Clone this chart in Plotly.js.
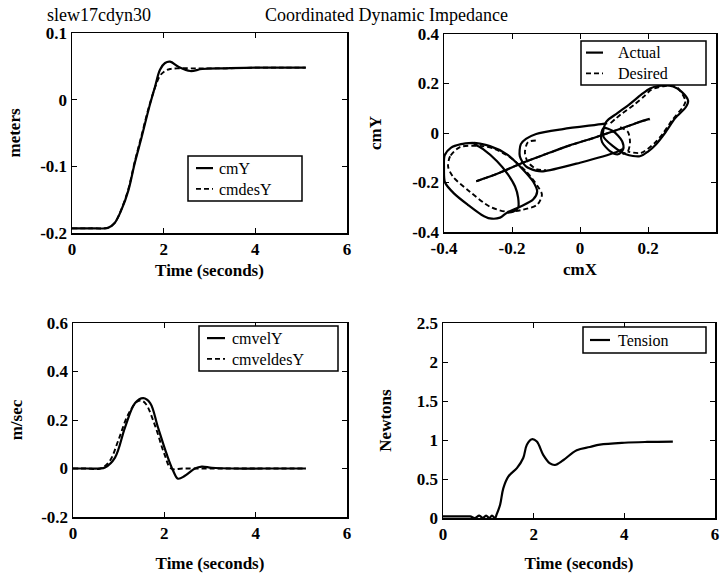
<!DOCTYPE html>
<html>
<head>
<meta charset="utf-8">
<script src="https://cdn.plot.ly/plotly-3.0.1.min.js"></script>
<style>html,body{margin:0;padding:0;background:#fff;}#plot{width:726px;height:573px;}</style>
</head>
<body>
<div id="plot"></div>
<script>
// ---- Top-left: cm Y position ----
const tPos = [0, 0.4, 0.79, 0.93, 1.08, 1.23, 1.37, 1.52, 1.67, 1.81, 1.92, 2.03, 2.14, 2.33, 2.58, 2.84, 3.35, 4.0, 4.6, 5.1];
const cmY = [-0.193, -0.193, -0.192, -0.185, -0.165, -0.136, -0.095, -0.056, -0.015, 0.019, 0.045, 0.055, 0.057, 0.049, 0.043, 0.046, 0.047, 0.048, 0.048, 0.048];
const cmdesY = [-0.193, -0.193, -0.192, -0.185, -0.164, -0.134, -0.093, -0.053, -0.013, 0.018, 0.036, 0.043, 0.046, 0.047, 0.047, 0.047, 0.047, 0.048, 0.048, 0.048];

// ---- Top-right: phase plot cmX vs cmY (segments separated by null) ----
const actualX = [
  -0.305, -0.24, -0.168, -0.10, -0.03, 0.04, 0.10, 0.15, 0.18, 0.205, null,
  -0.315, -0.35, -0.38, -0.398, -0.40, -0.397, -0.37, -0.33, -0.29, -0.265, -0.235, -0.215, -0.176, -0.138, -0.126, -0.138, -0.168, -0.215, -0.265, -0.315,
  -0.285, -0.244, -0.212, -0.191, -0.182, -0.182, -0.197, -0.215, null,
  0.08, 0.068, -0.05, -0.129, -0.159, -0.174, -0.177, -0.159, -0.13, -0.109, 0.0, 0.106, 0.126, null,
  0.068, 0.077, 0.11, 0.147, 0.18, 0.206, 0.23, 0.274, 0.30, 0.318, 0.312, 0.28, 0.25, 0.224, 0.20, 0.176, 0.135, 0.097, 0.068, null,
  0.07, 0.062, 0.065, 0.088, 0.112, 0.127, 0.124, 0.097, 0.07
];
const actualY = [
  -0.195, -0.163, -0.12, -0.085, -0.05, -0.02, 0.008, 0.032, 0.047, 0.057, null,
  -0.04, -0.045, -0.06, -0.09, -0.14, -0.20, -0.245, -0.29, -0.33, -0.345, -0.342, -0.322, -0.298, -0.269, -0.237, -0.196, -0.147, -0.086, -0.053, -0.04,
  -0.065, -0.114, -0.167, -0.216, -0.261, -0.302, -0.318, -0.322, null,
  0.04, 0.037, 0.016, -0.004, -0.024, -0.045, -0.094, -0.135, -0.152, -0.155, -0.12, -0.078, -0.065, null,
  -0.012, 0.045, 0.08, 0.118, 0.155, 0.18, 0.19, 0.188, 0.165, 0.131, 0.106, 0.06, 0.0, -0.045, -0.075, -0.094, -0.086, -0.053, -0.012, null,
  0.02, -0.01, -0.037, -0.073, -0.086, -0.065, -0.033, 0.008, 0.02
];
const desiredX = [
  -0.305, -0.24, -0.168, -0.10, -0.03, 0.04, 0.10, 0.15, 0.18, 0.206, null,
  -0.353, -0.382, -0.388, -0.374, -0.324, -0.265, -0.215, -0.168, -0.126, -0.112, -0.124, -0.156, -0.206, -0.25, -0.285, -0.353, null,
  -0.13, -0.153, -0.162, -0.153, -0.126, -0.10, null,
  0.09, 0.12, 0.16, 0.19, 0.21, 0.25, 0.285, 0.31, 0.305, 0.27, 0.245, 0.22, 0.18, 0.14, null,
  0.118, 0.141, 0.147, 0.141, 0.125
];
const desiredY = [
  -0.195, -0.163, -0.12, -0.085, -0.05, -0.02, 0.008, 0.032, 0.047, 0.055, null,
  -0.057, -0.094, -0.135, -0.176, -0.237, -0.298, -0.318, -0.31, -0.29, -0.249, -0.216, -0.159, -0.098, -0.065, -0.053, -0.057, null,
  -0.03, -0.037, -0.078, -0.118, -0.147, -0.15, null,
  0.04, 0.075, 0.115, 0.15, 0.175, 0.19, 0.185, 0.13, 0.11, 0.05, 0.0, -0.04, -0.08, -0.075, null,
  0.024, 0.004, -0.037, -0.073, -0.085
];

// ---- Bottom-left: cm Y velocity ----
const tVel = [0, 0.3, 0.59, 0.70, 0.92, 1.14, 1.36, 1.54, 1.69, 1.86, 2.05, 2.19, 2.30, 2.45, 2.67, 2.82, 3.04, 3.5, 4.2, 5.1];
const cmvelY = [0, 0, 0, 0.004, 0.045, 0.17, 0.27, 0.29, 0.27, 0.17, 0.06, -0.008, -0.042, -0.03, 0.0, 0.008, 0.003, 0.0, 0.0, 0.0];
const tVelDes = [0, 0.3, 0.6, 0.8, 1.0, 1.2, 1.4, 1.5, 1.6, 1.8, 2.0, 2.15, 2.4, 3.0, 4.0, 5.1];
const cmveldesY = [0, 0, 0, 0.03, 0.12, 0.22, 0.275, 0.28, 0.265, 0.175, 0.06, 0.0, 0.0, 0.0, 0.0, 0.0];

// ---- Bottom-right: tension ----
const tTen = [0, 0.2, 0.4, 0.6, 0.7, 0.8, 0.88, 0.95, 1.02, 1.08, 1.15, 1.18, 1.26, 1.33, 1.44, 1.63, 1.77, 1.85, 1.96, 2.07, 2.21, 2.36, 2.47, 2.65, 2.95, 3.24, 3.46, 4.0, 4.5, 5.07];
const tension = [0.02, 0.02, 0.02, 0.02, 0.0, 0.03, 0.0, 0.03, 0.0, 0.03, 0.0, 0.04, 0.17, 0.38, 0.53, 0.64, 0.77, 0.94, 1.01, 0.98, 0.81, 0.70, 0.68, 0.74, 0.87, 0.91, 0.94, 0.965, 0.975, 0.98];

const SERIF = 'Liberation Serif, Times New Roman, serif';
const tickFont = {family: SERIF, size: 17, color: '#000', weight: 700};
const titleFont = {family: SERIF, size: 17, color: '#000', weight: 700};
const legFontSize = 16;
const legLineH = legFontSize * 1.3;

function ax(anchor, dom, range, vals, texts, title, standoff) {
  return {
    anchor: anchor, domain: dom, range: range, tickvals: vals, ticktext: texts,
    showline: true, linecolor: '#000', linewidth: 1.5, mirror: 'ticks',
    ticks: 'inside', ticklen: 5, tickwidth: 1, tickcolor: '#000',
    showgrid: false, zeroline: false, tickfont: tickFont,
    title: {text: title, font: titleFont, standoff: standoff},
    fixedrange: true
  };
}

const solid = {color: '#000', width: 2.2};
const dashed = {color: '#000', width: 1.9, dash: '5px,3px'};

const traces = [
  {x: tPos, y: cmY, name: 'cmY', mode: 'lines', line: Object.assign({shape: 'spline'}, solid), xaxis: 'x', yaxis: 'y'},
  {x: tPos, y: cmdesY, name: 'cmdesY', mode: 'lines', line: Object.assign({shape: 'spline'}, dashed), xaxis: 'x', yaxis: 'y'},
  {x: actualX, y: actualY, name: 'Actual', mode: 'lines', line: Object.assign({shape: 'spline', smoothing: 0.8}, solid), connectgaps: false, xaxis: 'x2', yaxis: 'y2'},
  {x: desiredX, y: desiredY, name: 'Desired', mode: 'lines', line: Object.assign({shape: 'spline', smoothing: 0.8}, dashed), connectgaps: false, xaxis: 'x2', yaxis: 'y2'},
  {x: tVel, y: cmvelY, name: 'cmvelY', mode: 'lines', line: Object.assign({shape: 'spline'}, solid), xaxis: 'x3', yaxis: 'y3'},
  {x: tVelDes, y: cmveldesY, name: 'cmveldesY', mode: 'lines', line: Object.assign({shape: 'spline'}, dashed), xaxis: 'x3', yaxis: 'y3'},
  {x: tTen, y: tension, name: 'Tension', mode: 'lines', line: Object.assign({shape: 'spline'}, solid), xaxis: 'x4', yaxis: 'y4'}
];
traces.forEach(t => { t.showlegend = false; });

const W = 726, H = 573;
const px = v => v / W, py = v => 1 - v / H;

// Compact boxed legends (one per panel), built from the traces' names and line styles.
// box: [left, top, right, bottom] in page pixels; mid = vertical centre of the entries.
const legendBoxes = [
  {axis: 'x',  box: [188, 156, 302, 201], sample: [196, 213], textX: 218, mid: 178.5},
  {axis: 'x2', box: [581, 41, 706, 85],   sample: [586, 603], textX: 617, mid: 63},
  {axis: 'x3', box: [199, 326, 338, 371], sample: [207, 225], textX: 231, mid: 348.5},
  {axis: 'x4', box: [583, 327, 706, 353], sample: [590, 610], textX: 617, mid: 340}
];
const shapes = [];
const annotations = [
  {text: 'slew17cdyn30', x: px(45), y: py(15), xref: 'paper', yref: 'paper', xanchor: 'left', yanchor: 'middle', showarrow: false,
   font: {family: SERIF, size: 18, color: '#000'}},
  {text: 'Coordinated Dynamic Impedance', x: px(386), y: py(15), xref: 'paper', yref: 'paper', xanchor: 'center', yanchor: 'middle', showarrow: false,
   font: {family: SERIF, size: 18, color: '#000'}}
];
legendBoxes.forEach(lb => {
  const members = traces.filter(t => t.xaxis === lb.axis);
  const n = members.length;
  shapes.push({type: 'rect', xref: 'paper', yref: 'paper', x0: px(lb.box[0]), x1: px(lb.box[2]), y0: py(lb.box[3]), y1: py(lb.box[1]),
               line: {color: '#000', width: 1.5}, fillcolor: '#fff', layer: 'above'});
  members.forEach((t, i) => {
    const rowY = lb.mid + (i - (n - 1) / 2) * legLineH;
    shapes.push({type: 'line', xref: 'paper', yref: 'paper', x0: px(lb.sample[0]), x1: px(lb.sample[1]), y0: py(rowY), y1: py(rowY),
                 line: {color: '#000', width: t.line.width, dash: t.line.dash || 'solid'}, layer: 'above'});
  });
  annotations.push({text: members.map(t => t.name).join('<br>'), x: px(lb.textX), y: py(lb.mid), xref: 'paper', yref: 'paper',
                    xanchor: 'left', yanchor: 'middle', align: 'left', showarrow: false, borderpad: 0,
                    font: {family: SERIF, size: legFontSize, color: '#000'}});
});

const layout = {
  width: W, height: H,
  margin: {l: 0, r: 0, t: 0, b: 0},
  paper_bgcolor: '#fff', plot_bgcolor: '#fff',
  xaxis: ax('y', [px(72), px(347)], [0, 6], [0, 2, 4, 6], ['0', '2', '4', '6'], 'Time (seconds)', 6),
  yaxis: ax('x', [py(233), py(33)], [-0.2, 0.1], [-0.2, -0.1, 0, 0.1], ['-0.2', '-0.1', '0', '0.1'], 'meters', 15),
  xaxis2: ax('y2', [px(444), px(716)], [-0.4, 0.4], [-0.4, -0.2, 0, 0.2, 0.4], ['-0.4', '-0.2', '0', '0.2', '0.4'], 'cmX', 6),
  yaxis2: ax('x2', [py(232), py(34)], [-0.4, 0.4], [-0.4, -0.2, 0, 0.2, 0.4], ['-0.4', '-0.2', '0', '0.2', '0.4'], 'cmY', 26),
  xaxis3: ax('y3', [px(73), px(347)], [0, 6], [0, 2, 4, 6], ['0', '2', '4', '6'], 'Time (seconds)', 15),
  yaxis3: ax('x3', [py(517), py(323)], [-0.2, 0.6], [-0.2, 0, 0.2, 0.4, 0.6], ['-0.2', '0', '0.2', '0.4', '0.6'], 'm/sec', 14),
  xaxis4: ax('y4', [px(443), px(715)], [0, 6], [0, 2, 4, 6], ['0', '2', '4', '6'], 'Time (seconds)', 15),
  yaxis4: ax('x4', [py(518), py(323)], [0, 2.5], [0, 0.5, 1, 1.5, 2, 2.5], ['0', '0.5', '1', '1.5', '2', '2.5'], 'Newtons', 21),
  shapes: shapes,
  annotations: annotations,
  showlegend: false
};

Plotly.newPlot('plot', traces, layout, {staticPlot: true, displayModeBar: false});
</script>
</body>
</html>
